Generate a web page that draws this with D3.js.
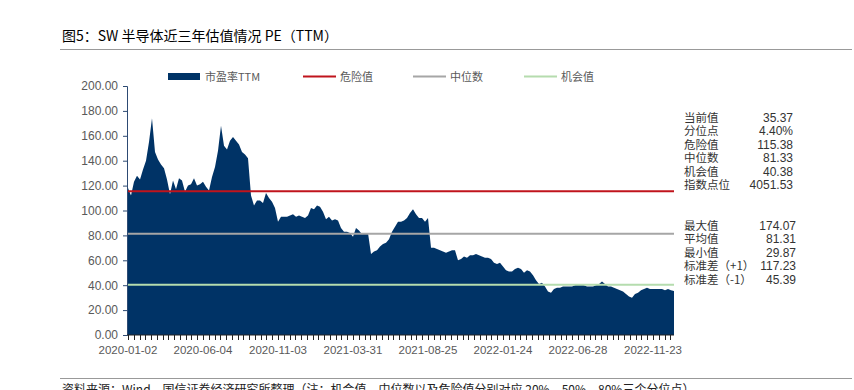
<!DOCTYPE html>
<html>
<head>
<meta charset="utf-8">
<script src="https://cdn.jsdelivr.net/npm/d3@7"></script>
<style>
  body { margin: 0; background: #fff; }
  svg { display: block; }
</style>
</head>
<body>
<div id="chart"></div>
<script>
// PE(TTM) readings, roughly every 4 trading days, 2020-01-02 .. 2022-12
const pe = [
  118, 112, 123, 128, 125, 133, 140, 155, 174.07, 147,
  141, 137, 134, 125, 113, 124, 117, 126, 124, 115,
  120, 121, 126, 120, 121, 123, 119, 116, 127, 135,
  148, 168, 152, 149, 156, 159, 156, 153, 147, 145,
  142, 112, 104, 108, 108, 106, 114, 110, 107, 102,
  91, 95, 95, 95, 96, 97, 95, 96, 95, 94,
  96, 102, 101, 104, 103, 99, 93, 95, 92, 93,
  92, 86, 83, 83, 82, 79, 86, 84, 81, 82,
  82, 65, 67, 68, 71, 73, 74, 77, 83, 87,
  91, 91, 92, 94, 98, 101, 97, 94, 94, 91,
  94, 70, 70, 69, 68, 67, 66, 67, 68, 68,
  60, 61, 63, 62, 64, 64, 65, 64, 63, 62,
  62, 61, 58, 57, 58, 55, 52, 51, 51, 53,
  54, 53, 50, 52, 51, 48, 44, 41, 42, 39,
  35, 34, 37, 38, 38, 39, 39, 39, 39, 40,
  41, 41, 40, 39, 39, 39, 40, 41, 43, 41,
  39, 39, 38, 37, 36, 35, 33, 31, 29.87, 33,
  34, 36, 37, 38, 37, 37, 37, 37, 37, 36,
  37, 36, 35.37
];
const tickDates = ['2020-01-02', '2020-06-04', '2020-11-03', '2021-03-31',
                   '2021-08-25', '2022-01-24', '2022-06-28', '2022-11-23'];
const yTicks = [0, 20, 40, 60, 80, 100, 120, 140, 160, 180, 200];

const refNames = ['危险值', '中位数', '机会值'];
const refValues = [115.38, 81.33, 40.38];
const refColors = ['#c0141c', '#a6a6a6', '#b5dcae'];

const statLabels1 = ['当前值', '分位点', '危险值', '中位数', '机会值', '指数点位'];
const statValues1 = ['35.37', '4.40%', '115.38', '81.33', '40.38', '4051.53'];
const statLabels2 = ['最大值', '平均值', '最小值', '标准差（+1）', '标准差（-1）'];
const statValues2 = ['174.07', '81.31', '29.87', '117.23', '45.39'];

const width = 854, height = 390;
const svg = d3.select('#chart').append('svg')
    .attr('width', width)
    .attr('height', height);

const cjk = '"Noto Sans CJK SC", sans-serif';
const latin = '"Liberation Sans", Arial, sans-serif';

// title
svg.append('text')
    .attr('x', 62).attr('y', 41)
    .attr('font-family', cjk)
    .attr('font-size', 14)
    .attr('font-weight', 400)
    .attr('fill', '#000')
    .text('图5：SW 半导体近三年估值情况 PE（TTM）');
svg.append('line')
    .attr('x1', 60).attr('x2', 852)
    .attr('y1', 49.5).attr('y2', 49.5)
    .attr('stroke', '#999').attr('stroke-width', 1);

// scales
const labelStep = 25;
const x = d3.scaleLinear().domain([0, pe.length - 1]).range([128, 674]);
const y = d3.scaleLinear().domain([0, 200]).range([335, 86]);

// area
const area = d3.area()
    .x((d, i) => x(i))
    .y0(y(0))
    .y1(d => y(d));
svg.append('path')
    .datum(pe)
    .attr('d', area)
    .attr('fill', '#003366');

// reference lines
svg.selectAll('.ref')
    .data(refValues)
    .join('line')
    .attr('class', 'ref')
    .attr('x1', 127).attr('x2', x(pe.length - 1))
    .attr('y1', d => y(d)).attr('y2', d => y(d))
    .attr('stroke', (d, i) => refColors[i])
    .attr('stroke-width', 2);

// y axis
const yAxis = svg.append('g')
    .attr('transform', 'translate(127,0)')
    .call(d3.axisLeft(y).tickValues(yTicks).tickSize(4).tickFormat(d3.format('.2f')));
yAxis.select('.domain').attr('stroke', '#2d4a73');
yAxis.selectAll('.tick line').attr('stroke', '#2d4a73');
yAxis.selectAll('text')
    .attr('font-family', latin)
    .attr('font-size', 12)
    .attr('fill', '#595959')
    .attr('dx', -2);

// x axis: minor ticks every 1/13 label interval, labels every 25 points
const minorStep = labelStep / 13;
const minorTicks = d3.range(0, pe.length - 1 + 0.01, minorStep);
const xAxisG = svg.append('g').attr('transform', 'translate(0,335)');
xAxisG.append('line')
    .attr('x1', 127).attr('x2', x(pe.length - 1))
    .attr('stroke', '#222').attr('stroke-width', 1);
xAxisG.selectAll('.minor')
    .data(minorTicks)
    .join('line')
    .attr('class', 'minor')
    .attr('x1', d => Math.round(x(d)) + 0.5).attr('x2', d => Math.round(x(d)) + 0.5)
    .attr('y1', 0).attr('y2', 5)
    .attr('stroke', '#222');
xAxisG.selectAll('.lbl')
    .data(tickDates)
    .join('text')
    .attr('class', 'lbl')
    .attr('x', (d, i) => x(i * labelStep))
    .attr('y', 19)
    .attr('text-anchor', 'middle')
    .attr('font-family', latin)
    .attr('font-size', 11.5)
    .attr('fill', '#595959')
    .text(d => d);

// legend
const legend = svg.append('g').attr('font-family', cjk).attr('font-size', 11).attr('fill', '#595959');
legend.append('rect')
    .attr('x', 168).attr('y', 73).attr('width', 32).attr('height', 7)
    .attr('fill', '#003366');
legend.append('text').attr('x', 205).attr('y', 81).text('市盈率TTM');
const legX = [303, 413, 524];
refNames.forEach((name, i) => {
  legend.append('line')
      .attr('x1', legX[i]).attr('x2', legX[i] + 33)
      .attr('y1', 76.5).attr('y2', 76.5)
      .attr('stroke', refColors[i]).attr('stroke-width', 2);
  legend.append('text').attr('x', legX[i] + 37).attr('y', 81).text(name);
});

// stats panel
function statBlock(labels, values, top, right) {
  const g = svg.append('g').attr('fill', '#333');
  g.selectAll('.sl')
      .data(labels)
      .join('text')
      .attr('x', 684)
      .attr('y', (d, i) => top + i * 13.4)
      .attr('font-family', cjk)
      .attr('font-size', 11.5)
      .text(d => d);
  g.selectAll('.sv')
      .data(values)
      .join('text')
      .attr('x', right)
      .attr('y', (d, i) => top + i * 13.4)
      .attr('text-anchor', 'end')
      .attr('font-family', latin)
      .attr('font-size', 12)
      .text(d => d);
}
statBlock(statLabels1, statValues1, 122, 793);
statBlock(statLabels2, statValues2, 230, 796);

// source note
svg.append('line')
    .attr('x1', 60).attr('x2', 852)
    .attr('y1', 378.5).attr('y2', 378.5)
    .attr('stroke', '#999');
svg.append('text')
    .attr('x', 62).attr('y', 394)
    .attr('font-family', cjk)
    .attr('font-size', 12)
    .attr('fill', '#222')
    .text('资料来源：Wind，国信证券经济研究所整理（注：机会值、中位数以及危险值分别对应 20%、50%、80%三个分位点）');
</script>
</body>
</html>
